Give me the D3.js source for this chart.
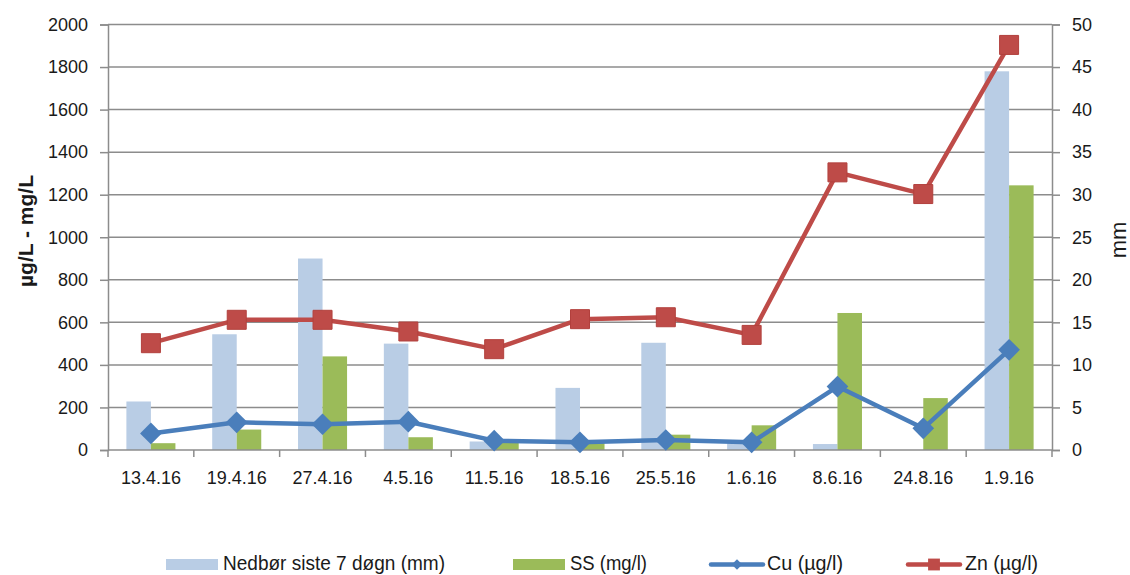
<!DOCTYPE html>
<html>
<head>
<meta charset="utf-8">
<script src="https://cdn.jsdelivr.net/npm/d3@7"></script>
<style>
  html, body { margin: 0; padding: 0; background: #fff; }
  svg { display: block; font-family: "Liberation Sans", Arial, sans-serif; }
</style>
</head>
<body>
<svg id="chart" width="1130" height="575"></svg>
<script>
// Sampling dates
const categories = ["13.4.16", "19.4.16", "27.4.16", "4.5.16", "11.5.16", "18.5.16",
                    "25.5.16", "1.6.16", "8.6.16", "24.8.16", "1.9.16"];

// Bars (secondary axis, mm)
const nedbor = [5.7, 13.6, 22.5, 12.5, 1.0, 7.3, 12.6, 0.8, 0.7, 0, 44.5];
const ss     = [0.8, 2.4, 11.0, 1.5, 0.9, 1.0, 1.8, 2.9, 16.1, 6.1, 31.1];

// Lines (primary axis, µg/l)
const cu = [78, 130, 121, 133, 44, 36, 47, 36, 298, 102, 471];
const zn = [502, 612, 612, 557, 474, 615, 624, 541, 1305, 1203, 1904];

const leftTicks  = [0, 200, 400, 600, 800, 1000, 1200, 1400, 1600, 1800, 2000];
const rightTicks = [0, 5, 10, 15, 20, 25, 30, 35, 40, 45, 50];

const seriesNames = ["Nedbør siste 7 døgn (mm)", "SS (mg/l)", "Cu (µg/l)", "Zn (µg/l)"];
const colors = { nedbor: "#b9cde5", ss: "#9bbb59", cu: "#4a7ebb", zn: "#be4b48" };

const svg = d3.select("#chart");
const plotL = 108, plotR = 1052, plotT = 24.5, plotB = 450;
const gridColor = "#8c8c8c";

const x = d3.scaleBand().domain(categories).range([plotL, plotR]).paddingInner(0).paddingOuter(0);
const xSub = d3.scaleBand().domain(["nedbor", "ss"]).range([0, x.bandwidth()])
  .paddingInner(0).paddingOuter(0.75);
const yL = d3.scaleLinear().domain([0, 2000]).range([plotB, plotT]);
const yR = d3.scaleLinear().domain([0, 50]).range([plotB, plotT]);

// Horizontal gridlines
svg.append("g").selectAll("line").data(leftTicks.slice(1)).join("line")
  .attr("x1", plotL).attr("x2", plotR)
  .attr("y1", d => yL(d)).attr("y2", d => yL(d))
  .attr("stroke", gridColor).attr("stroke-width", 1.5);

// Bars
const bars = svg.append("g");
[["nedbor", nedbor], ["ss", ss]].forEach(([key, vals]) => {
  bars.selectAll("rect." + key).data(vals).join("rect")
    .attr("class", key)
    .attr("x", (d, i) => x(categories[i]) + xSub(key))
    .attr("width", xSub.bandwidth())
    .attr("y", d => yR(d))
    .attr("height", d => yR(0) - yR(d))
    .attr("fill", colors[key]);
});

// Left axis
const axL = svg.append("g").attr("transform", `translate(${plotL},0)`)
  .call(d3.axisLeft(yL).tickValues(leftTicks).tickFormat(d3.format("d")).tickSize(8).tickPadding(12));
// Right axis
const axR = svg.append("g").attr("transform", `translate(${plotR},0)`)
  .call(d3.axisRight(yR).tickValues(rightTicks).tickFormat(d3.format("d")).tickSize(8).tickPadding(12));
[axL, axR].forEach(ax => {
  ax.select(".domain").attr("stroke", gridColor).attr("stroke-width", 1.5);
  ax.selectAll(".tick line").attr("stroke", gridColor).attr("stroke-width", 1.5);
  ax.selectAll("text").attr("font-size", 18).attr("fill", "#1a1a1a")
    .attr("font-family", "'Liberation Sans', Arial, sans-serif");
});

// Bottom axis: category labels centered, ticks at band edges
const axB = svg.append("g");
axB.append("line").attr("x1", plotL).attr("x2", plotR).attr("y1", plotB).attr("y2", plotB)
  .attr("stroke", gridColor).attr("stroke-width", 1.5);
const edges = categories.map(c => x(c)).concat([plotR]);
axB.selectAll("line.tk").data(edges).join("line").attr("class", "tk")
  .attr("x1", d => d).attr("x2", d => d).attr("y1", plotB).attr("y2", plotB + 7)
  .attr("stroke", gridColor).attr("stroke-width", 1.5);
axB.selectAll("text").data(categories).join("text")
  .attr("x", d => x(d) + x.bandwidth() / 2).attr("y", 484)
  .attr("text-anchor", "middle").attr("font-size", 18).attr("fill", "#1a1a1a")
  .text(d => d);

// Lines
const cx = (d, i) => x(categories[i]) + x.bandwidth() / 2;
const line = d3.line().x(cx).y(d => yL(d));

svg.append("path").datum(zn).attr("d", line)
  .attr("fill", "none").attr("stroke", colors.zn).attr("stroke-width", 4.5)
  .attr("stroke-linejoin", "round");
svg.append("path").datum(cu).attr("d", line)
  .attr("fill", "none").attr("stroke", colors.cu).attr("stroke-width", 4.5)
  .attr("stroke-linejoin", "round");

const sq = d3.symbol().type(d3.symbolSquare).size(19 * 19);
const dm = d3.symbol().type(d3.symbolDiamond2).size(300);

svg.append("g").selectAll("path").data(zn).join("path")
  .attr("d", sq)
  .attr("transform", (d, i) => `translate(${cx(d, i)},${yL(d)})`)
  .attr("fill", colors.zn).attr("stroke", "#b2403d").attr("stroke-width", 1);
svg.append("g").selectAll("path").data(cu).join("path")
  .attr("d", dm)
  .attr("transform", (d, i) => `translate(${cx(d, i)},${yL(d)})`)
  .attr("fill", colors.cu);

// Axis titles
svg.append("text")
  .attr("transform", "translate(33,231) rotate(-90)")
  .attr("text-anchor", "middle").attr("font-size", 21).attr("font-weight", "bold")
  .attr("fill", "#1a1a1a").text("µg/L - mg/L");
svg.append("text")
  .attr("transform", "translate(1126,240) rotate(-90)")
  .attr("text-anchor", "middle").attr("font-size", 22)
  .attr("fill", "#1a1a1a").text("mm");

// Legend
const legend = svg.append("g");
const legItems = [
  { name: seriesNames[0], kind: "bar", color: colors.nedbor, x: 166, tx: 223, tw: 222 },
  { name: seriesNames[1], kind: "bar", color: colors.ss, x: 513, tx: 570, tw: 77 },
  { name: seriesNames[2], kind: "line", color: colors.cu, x: 709, tx: 767, tw: 76, marker: "diamond" },
  { name: seriesNames[3], kind: "line", color: colors.zn, x: 906, tx: 965, tw: 73, marker: "square" }
];
const ly = 564.5;
legItems.forEach(it => {
  if (it.kind === "bar") {
    legend.append("rect").attr("x", it.x).attr("y", ly - 5.5).attr("width", 52).attr("height", 11)
      .attr("fill", it.color);
  } else {
    legend.append("line").attr("x1", it.x + 2).attr("x2", it.x + 54).attr("y1", ly).attr("y2", ly)
      .attr("stroke", it.color).attr("stroke-width", 4.5).attr("stroke-linecap", "round");
    const sym = it.marker === "diamond"
      ? d3.symbol().type(d3.symbolDiamond2).size(70)
      : d3.symbol().type(d3.symbolSquare).size(140);
    legend.append("path").attr("d", sym).attr("transform", `translate(${it.x + 28},${ly})`)
      .attr("fill", it.color);
  }
  legend.append("text").attr("x", it.tx).attr("y", ly + 5)
    .attr("font-size", 20).attr("fill", "#1a1a1a")
    .attr("textLength", it.tw).attr("lengthAdjust", "spacingAndGlyphs")
    .text(it.name);
});
</script>
</body>
</html>
